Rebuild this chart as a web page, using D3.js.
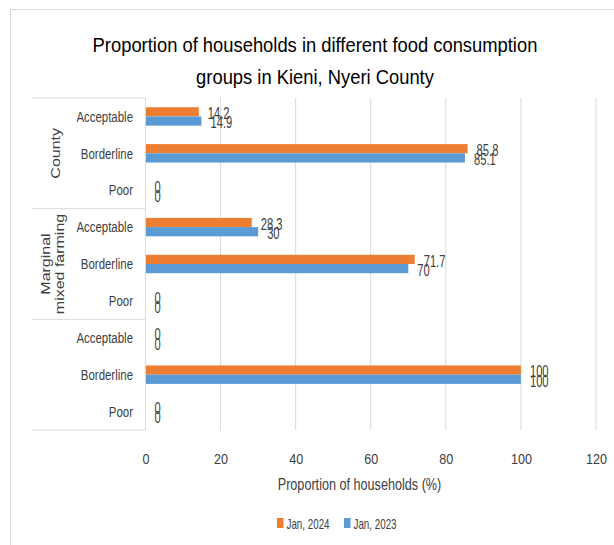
<!DOCTYPE html>
<html>
<head>
<meta charset="utf-8">
<script src="https://cdn.jsdelivr.net/npm/d3@7"></script>
<style>
  body { margin: 0; background: #fff; }
  svg text { font-family: "Liberation Sans", Arial, sans-serif; fill: #404040; }
  .grid line { stroke: #d9d9d9; }
</style>
</head>
<body>
<div id="chart"></div>
<script>
var groups = ['County', 'Marginal mixed farming', ''];
var categories = ['Acceptable', 'Borderline', 'Poor'];
var series = ['Jan, 2024', 'Jan, 2023'];
var jan2024 = [14.2, 85.8, 0, 28.3, 71.7, 0, 0, 100, 0];
var jan2023 = [14.9, 85.1, 0, 30, 70, 0, 0, 100, 0];
var xTicks = [0, 20, 40, 60, 80, 100, 120];
var colors = ['#ED7D31', '#5B9BD5'];

var width = 614, height = 545;
var plot = {left: 145.5, right: 596, top: 98, bottom: 430};

// the source text is narrow, so every label is squeezed sideways
function squeeze(sel, x, y, k) {
    return sel.attr('transform', 'translate(' + x + ',' + y + ') scale(' + k + ',1)');
}

var rows = [];
groups.forEach(function (g, gi) {
    categories.forEach(function (c, ci) {
        var i = gi * categories.length + ci;
        rows.push({id: i, group: g, cat: c, values: [jan2024[i], jan2023[i]]});
    });
});

var svg = d3.select('#chart').append('svg')
    .attr('width', width)
    .attr('height', height);

// chart frame
svg.append('rect')
    .attr('x', 10.5).attr('y', 9.5)
    .attr('width', 620).attr('height', 560)
    .attr('fill', 'none')
    .attr('stroke', '#d9d9d9');

var x = d3.scaleLinear().domain([0, 120]).range([plot.left, plot.right]);
var y = d3.scaleBand().domain(rows.map(function (d) { return d.id; }))
    .range([plot.top, plot.bottom]).paddingInner(0.5).paddingOuter(0.25);
var ySub = d3.scaleBand().domain([0, 1]).range([0, y.bandwidth()]);

// gridlines
svg.append('g').classed('grid', true)
    .selectAll('line').data(xTicks.slice(1)).enter().append('line')
    .attr('x1', function (d) { return x(d); })
    .attr('x2', function (d) { return x(d); })
    .attr('y1', plot.top).attr('y2', plot.bottom);

// x axis labels
var xAxis = d3.axisBottom(x).tickValues(xTicks).tickSize(0).tickPadding(0);
var xg = svg.append('g')
    .attr('transform', 'translate(0,' + (plot.bottom + 34) + ')')
    .call(xAxis);
xg.select('.domain').remove();
xg.selectAll('text')
    .attr('y', 0).attr('dy', 0)
    .style('font-size', '15px')
    .style('font-family', '"Liberation Sans", Arial, sans-serif')
    .style('fill', '#404040')
    .attr('transform', 'scale(0.84,1)');

squeeze(svg.append('text'), 359.5, 490, 0.79)
    .attr('text-anchor', 'middle')
    .style('font-size', '16px')
    .text('Proportion of households (%)');

// bars
var bars = svg.append('g');
rows.forEach(function (r) {
    r.values.forEach(function (v, si) {
        var y0 = y(r.id) + ySub(si);
        bars.append('rect')
            .attr('x', x(0))
            .attr('y', y0)
            .attr('width', x(v) - x(0))
            .attr('height', ySub.bandwidth())
            .attr('fill', colors[si]);
        squeeze(bars.append('text'), x(v) + 9, y0 + ySub.bandwidth() / 2 + 1.5, 0.7)
            .attr('dy', '0.36em')
            .style('font-size', '16px')
            .text(v);
    });
});

// category axis table
var axisG = svg.append('g');
axisG.append('line')
    .attr('x1', plot.left).attr('x2', plot.left)
    .attr('y1', plot.top).attr('y2', plot.bottom)
    .attr('stroke', '#d9d9d9');
var groupH = (plot.bottom - plot.top) / groups.length;
d3.range(groups.length + 1).forEach(function (i) {
    axisG.append('line')
        .attr('x1', 32).attr('x2', plot.left)
        .attr('y1', plot.top + i * groupH).attr('y2', plot.top + i * groupH)
        .attr('stroke', '#d9d9d9');
});
rows.forEach(function (r) {
    squeeze(axisG.append('text'), 133, y(r.id) + y.bandwidth() / 2, 0.79)
        .attr('dy', '0.36em')
        .attr('text-anchor', 'end')
        .style('font-size', '14.5px')
        .text(r.cat);
});

groups.forEach(function (g, gi) {
    var lines = g === 'Marginal mixed farming' ? ['Marginal', 'mixed farming'] : [g];
    var cy = plot.top + (gi + 0.5) * groupH;
    var base = lines.length === 1 ? [60] : [50, 64];
    lines.forEach(function (w, wi) {
        axisG.append('text')
            .attr('transform', 'translate(' + base[wi] + ',' + cy + ') scale(0.8,1) rotate(-90)')
            .attr('text-anchor', 'middle')
            .style('font-size', '16px')
            .text(w);
    });
});

// title
squeeze(svg.append('text'), 315, 52, 0.875)
    .attr('text-anchor', 'middle')
    .style('font-size', '21px')
    .style('fill', '#000')
    .text('Proportion of households in different food consumption');
squeeze(svg.append('text'), 315, 84, 0.875)
    .attr('text-anchor', 'middle')
    .style('font-size', '21px')
    .style('fill', '#000')
    .text('groups in Kieni, Nyeri County');

// legend
var legendX = [277, 344];
series.forEach(function (s, i) {
    svg.append('rect')
        .attr('x', legendX[i]).attr('y', 518)
        .attr('width', 6.5).attr('height', 10)
        .attr('fill', colors[i]);
    squeeze(svg.append('text'), legendX[i] + 9.5, 529, 0.7)
        .style('font-size', '14px')
        .text(s);
});
</script>
</body>
</html>
